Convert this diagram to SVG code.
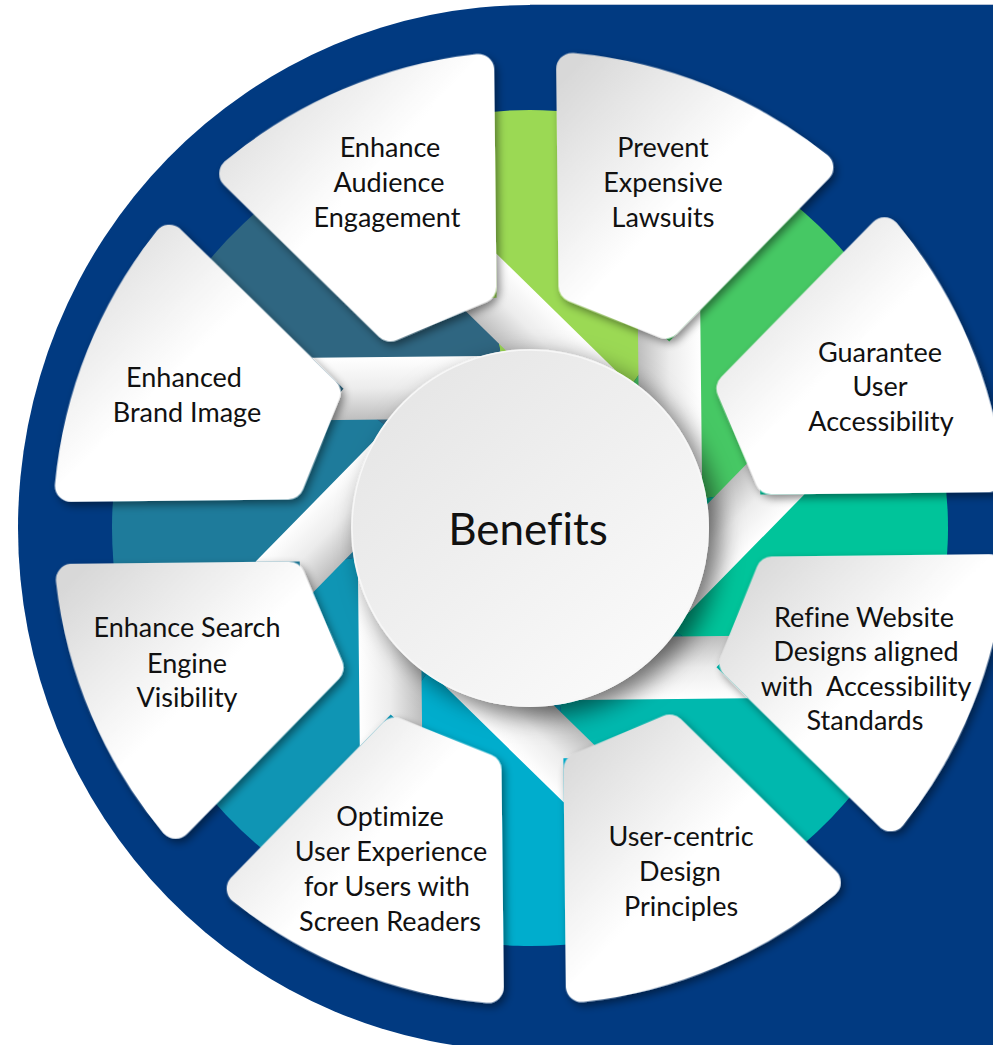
<svg xmlns="http://www.w3.org/2000/svg" xmlns:xlink="http://www.w3.org/1999/xlink" width="993" height="1045" viewBox="0 0 993 1045">
  <style>
    .lbl { font-family: Lato, "Liberation Sans", sans-serif; font-size: 27px; fill: #111; text-anchor: middle; font-variant-ligatures: none; }
    .hub-lbl { font-family: Lato, "Liberation Sans", sans-serif; font-size: 44px; fill: #111; text-anchor: middle; font-variant-ligatures: none; }
    .card { fill: url(#cardFill); stroke: url(#cardFill); stroke-width: 32; stroke-linejoin: round; filter: url(#cardShadow); }
    .stem { fill: url(#stemFill); }
  </style>
  <defs>
    <linearGradient id="cardFill" x1="0" y1="0" x2="1" y2="1">
      <stop offset="0" stop-color="#D8D8D8"/>
      <stop offset="0.48" stop-color="#FFFFFF"/>
      <stop offset="1" stop-color="#FFFFFF"/>
    </linearGradient>
    <!-- shading across a tab, drawn for the tab under the top-right card -->
    <linearGradient id="stemFill" gradientUnits="userSpaceOnUse" x1="640" y1="0" x2="702.5" y2="0">
      <stop offset="0" stop-color="#BEBEBE"/>
      <stop offset="0.5" stop-color="#ECECEC"/>
      <stop offset="1" stop-color="#FFFFFF"/>
    </linearGradient>
    <linearGradient id="hubFill" x1="0.15" y1="0.1" x2="0.85" y2="0.9">
      <stop offset="0" stop-color="#E6E6E6"/>
      <stop offset="1" stop-color="#FAFAFA"/>
    </linearGradient>
    <filter id="cardShadow" x="-20%" y="-20%" width="140%" height="140%">
      <feDropShadow dx="3" dy="4" stdDeviation="4" flood-color="#000" flood-opacity="0.45"/>
    </filter>
    <filter id="hubShadow" x="-30%" y="-30%" width="160%" height="160%">
      <feDropShadow dx="10" dy="9" stdDeviation="12" flood-color="#000" flood-opacity="0.55"/>
    </filter>
    <!-- one 45 degree slice of the coloured ring, centred on the top gap -->
    <path id="wedge" d="M 530 528 L 464.61 115.15 A 418 418 0 0 1 775.69 189.83 Z"/>
    <!-- tab running from the inner tip of a card to the hub -->
    <path id="stem" d="M 640 313 L 671.2 343 L 702.5 311.7 L 702.5 528 L 640 528 Z"/>
  </defs>

  <!-- navy backdrop -->
  <path d="M 993 5 L 530 5 A 512 523 0 0 0 18 528 A 512 523 0 0 0 530 1051 L 993 1051 Z" fill="#013A81"/>
  <line x1="530" y1="4.5" x2="993" y2="4.5" stroke="#B7C3D6" stroke-width="1"/>

  <!-- coloured ring -->
  <g id="ring" transform="rotate(-0.6 530 528)">
    <use xlink:href="#wedge" fill="#9BD954"/>
    <use xlink:href="#wedge" transform="rotate(45 530 528)" fill="#46C864"/>
    <use xlink:href="#wedge" transform="rotate(90 530 528)" fill="#00C49A"/>
    <use xlink:href="#wedge" transform="rotate(135 530 528)" fill="#00B8AE"/>
    <use xlink:href="#wedge" transform="rotate(180 530 528)" fill="#00ADCD"/>
    <use xlink:href="#wedge" transform="rotate(225 530 528)" fill="#0F95B4"/>
    <use xlink:href="#wedge" transform="rotate(270 530 528)" fill="#1E7B9B"/>
    <use xlink:href="#wedge" transform="rotate(315 530 528)" fill="#2F6681"/>
  </g>

  <!-- tabs linking each card to the hub -->
  <g id="connectors" transform="rotate(-0.6 530 528)">
    <use xlink:href="#stem" class="stem"/>
    <use xlink:href="#stem" class="stem" transform="rotate(45 530 528)"/>
    <use xlink:href="#stem" class="stem" transform="rotate(90 530 528)"/>
    <use xlink:href="#stem" class="stem" transform="rotate(135 530 528)"/>
    <use xlink:href="#stem" class="stem" transform="rotate(180 530 528)"/>
    <use xlink:href="#stem" class="stem" transform="rotate(225 530 528)"/>
    <use xlink:href="#stem" class="stem" transform="rotate(270 530 528)"/>
    <use xlink:href="#stem" class="stem" transform="rotate(315 530 528)"/>
  </g>

  <!-- cards -->
  <g id="card-lawsuits">
    <path class="card" transform="rotate(-0.6 530 528)" d="M 577 286.61 L 577 69.4 A 461 461 0 0 1 821.04 170.49 L 667.45 324.08 Z"/>
    <text class="lbl" x="663" y="157">Prevent</text>
    <text class="lbl" x="663" y="192">Expensive</text>
    <text class="lbl" x="663" y="227">Lawsuits</text>
  </g>
  <g id="card-accessibility">
    <path class="card" transform="rotate(-0.6 530 528)" d="M 733.92 390.55 L 887.51 236.95 A 461 461 0 0 1 988.59 481 L 771.39 481 Z"/>
    <text class="lbl" x="880" y="362">Guarantee</text>
    <text class="lbl" x="880" y="396">User</text>
    <text class="lbl" x="881" y="431">Accessibility</text>
  </g>
  <g id="card-standards">
    <path class="card" transform="rotate(-0.6 530 528)" d="M 771.39 575 L 988.6 575 A 461 461 0 0 1 887.51 819.04 L 733.92 665.45 Z"/>
    <text class="lbl" x="864" y="627">Refine Website</text>
    <text class="lbl" x="866" y="661">Designs aligned</text>
    <text class="lbl" x="866" y="696" xml:space="preserve" style="white-space:pre">with  Accessibility</text>
    <text class="lbl" x="865" y="730">Standards</text>
  </g>
  <g id="card-user-centric">
    <path class="card" transform="rotate(-0.6 530 528)" d="M 667.45 731.92 L 821.05 885.51 A 461 461 0 0 1 577 986.59 L 577 769.39 Z"/>
    <text class="lbl" x="681" y="846">User-centric</text>
    <text class="lbl" x="680" y="881">Design</text>
    <text class="lbl" x="681" y="916">Principles</text>
  </g>
  <g id="card-screen-readers">
    <path class="card" transform="rotate(-0.6 530 528)" d="M 483 769.39 L 483 986.6 A 461 461 0 0 1 238.96 885.51 L 392.55 731.92 Z"/>
    <text class="lbl" x="390" y="826">Optimize</text>
    <text class="lbl" x="391" y="861">User Experience</text>
    <text class="lbl" x="387" y="896">for Users with</text>
    <text class="lbl" x="390" y="931">Screen Readers</text>
  </g>
  <g id="card-search">
    <path class="card" transform="rotate(-0.6 530 528)" d="M 326.08 665.45 L 172.49 819.05 A 461 461 0 0 1 71.41 575 L 288.61 575 Z"/>
    <text class="lbl" x="187" y="637">Enhance Search</text>
    <text class="lbl" x="187" y="673">Engine</text>
    <text class="lbl" x="187" y="707">Visibility</text>
  </g>
  <g id="card-brand">
    <path class="card" transform="rotate(-0.6 530 528)" d="M 288.61 481 L 71.4 481 A 461 461 0 0 1 172.49 236.96 L 326.08 390.55 Z"/>
    <text class="lbl" x="184" y="387">Enhanced</text>
    <text class="lbl" x="187" y="422">Brand Image</text>
  </g>
  <g id="card-engagement">
    <path class="card" transform="rotate(-0.6 530 528)" d="M 392.55 324.08 L 238.95 170.49 A 461 461 0 0 1 483 69.41 L 483 286.61 Z"/>
    <text class="lbl" x="390" y="157">Enhance</text>
    <text class="lbl" x="389" y="192">Audience</text>
    <text class="lbl" x="387" y="227">Engagement</text>
  </g>

  <!-- hub -->
  <g id="hub">
    <circle cx="530" cy="528" r="179" fill="url(#hubFill)" filter="url(#hubShadow)"/>
    <circle cx="530" cy="528" r="178" fill="none" stroke="#F7F7F7" stroke-width="1.5"/>
    <text class="hub-lbl" x="528" y="545">Benefits</text>
  </g>
</svg>
